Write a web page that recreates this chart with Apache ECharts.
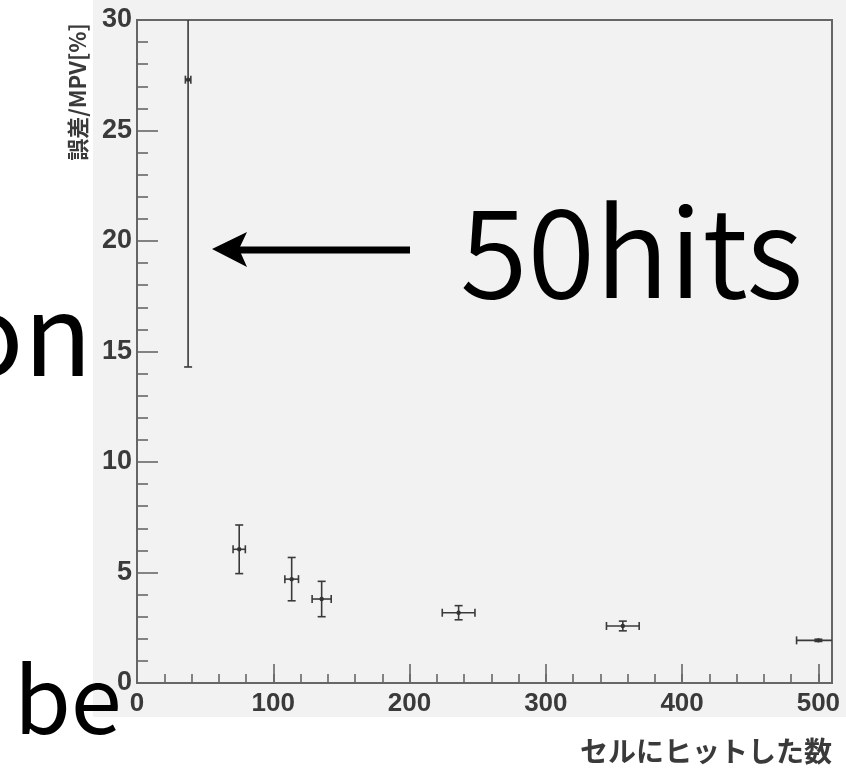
<!DOCTYPE html>
<html>
<head>
<meta charset="utf-8">
<script src="https://cdn.jsdelivr.net/npm/echarts@6/dist/echarts.min.js"></script>
<style>
html,body{margin:0;padding:0;background:#ffffff;}
#chart{width:846px;height:768px;}
</style>
</head>
<body>
<div id="chart"></div>
<script>
// ---- data ----
const xValues = [37.5, 75, 113.5, 135.5, 236, 356.5, 500];
const yValues = [27.3, 6.05, 4.7, 3.8, 3.18, 2.58, 1.93];
const xErrors = [2, 4.5, 5, 7, 12, 12, 16];
const yErrors = [13, 1.1, 0.98, 0.8, 0.32, 0.22, 0.05];
const xTickLabels = [0, 100, 200, 300, 400, 500];
const yTickLabels = [0, 5, 10, 15, 20, 25, 30];
const xTitle = 'セルにヒットした数';
const yTitle = '誤差/MPV[%]';
const annotation = '50hits';
const sideTextA = 'on';
const sideTextB = 'be';

const X_MIN = 0, X_MAX = 510, Y_MIN = 0, Y_MAX = 30;
const axisColor = '#666666';
const labelColor = '#3a3a3a';
const labelFont = 'Liberation Sans';

const points = xValues.map((x, i) => [x, yValues[i], xErrors[i], yErrors[i]]);

function renderErrorBar(params, api) {
  const x = api.value(0), y = api.value(1), ex = api.value(2), ey = api.value(3);
  const stroke = {stroke: '#3a3a3a', lineWidth: 1.6};
  const children = [];
  const c = api.coord([x, y]);
  const yTopV = Math.min(y + ey, Y_MAX), yBotV = Math.max(y - ey, Y_MIN);
  const xLeftV = Math.max(x - ex, X_MIN), xRightV = Math.min(x + ex, X_MAX);
  const top = api.coord([x, yTopV]), bot = api.coord([x, yBotV]);
  const left = api.coord([xLeftV, y]), right = api.coord([xRightV, y]);
  const cap = 4;
  children.push({type: 'line', shape: {x1: top[0], y1: top[1], x2: bot[0], y2: bot[1]}, style: stroke});
  if (y + ey <= Y_MAX) children.push({type: 'line', shape: {x1: top[0] - cap, y1: top[1], x2: top[0] + cap, y2: top[1]}, style: stroke});
  if (y - ey >= Y_MIN) children.push({type: 'line', shape: {x1: bot[0] - cap, y1: bot[1], x2: bot[0] + cap, y2: bot[1]}, style: stroke});
  children.push({type: 'line', shape: {x1: left[0], y1: left[1], x2: right[0], y2: right[1]}, style: stroke});
  if (x - ex >= X_MIN) children.push({type: 'line', shape: {x1: left[0], y1: left[1] - cap, x2: left[0], y2: left[1] + cap}, style: stroke});
  if (x + ex <= X_MAX) children.push({type: 'line', shape: {x1: right[0], y1: right[1] - cap, x2: right[0], y2: right[1] + cap}, style: stroke});
  children.push({type: 'circle', shape: {cx: c[0], cy: c[1], r: 2.2}, style: {fill: '#333333'}});
  return {type: 'group', children: children};
}

const chart = echarts.init(document.getElementById('chart'), null, {renderer: 'canvas'});
const tickLine = {color: axisColor, width: 1.6};

chart.setOption({
  animation: false,
  backgroundColor: '#ffffff',
  grid: {left: 137, top: 20, right: 14, bottom: 85, show: true, borderColor: axisColor, borderWidth: 2, backgroundColor: 'transparent'},
  xAxis: [{
    type: 'value', min: X_MIN, max: X_MAX, position: 'bottom',
    axisLine: {show: true, onZero: false, lineStyle: {color: axisColor, width: 2}},
    axisTick: {show: true, inside: true, length: 19, lineStyle: tickLine, customValues: xTickLabels},
    axisLabel: {customValues: xTickLabels, margin: 8, fontSize: 26, fontWeight: 'bold', color: labelColor, fontFamily: labelFont},
    splitLine: {show: false}
  }, {
    type: 'value', min: X_MIN, max: X_MAX, interval: 20, position: 'bottom',
    axisLine: {show: false},
    axisTick: {show: true, inside: true, length: 9, lineStyle: tickLine},
    axisLabel: {show: false},
    splitLine: {show: false}
  }],
  yAxis: {
    type: 'value', min: Y_MIN, max: Y_MAX, interval: 5,
    axisLine: {show: true, onZero: false, lineStyle: {color: axisColor, width: 2}},
    axisTick: {show: true, inside: true, length: 21, lineStyle: tickLine},
    minorTick: {show: true, splitNumber: 5, length: 11, lineStyle: tickLine},
    axisLabel: {customValues: yTickLabels, margin: 5, fontSize: 27, fontWeight: 'bold', color: labelColor, fontFamily: labelFont},
    splitLine: {show: false}
  },
  graphic: [
    {type: 'rect', z: -10, silent: true, shape: {x: 93, y: 0, width: 753, height: 717}, style: {fill: '#f2f2f2'}},
    {type: 'text', z: 10, x: 78, y: 92, rotation: Math.PI / 2,
      style: {text: yTitle, fontSize: 22, fontWeight: 'bold', fontFamily: 'Noto Sans CJK JP', fill: labelColor, textAlign: 'center', textVerticalAlign: 'middle'}},
    {type: 'text', z: 10, x: 832, y: 751,
      style: {text: xTitle, fontSize: 28, fontWeight: 'bold', fontFamily: 'Noto Sans CJK JP', fill: labelColor, textAlign: 'right', textVerticalAlign: 'middle'}},
    {type: 'text', z: 10, x: 460, y: 251,
      style: {text: annotation, fontSize: 123, fontWeight: 350, fontFamily: 'Noto Sans CJK JP', fill: '#000000', textAlign: 'left', textVerticalAlign: 'middle'}},
    {type: 'line', z: 10, shape: {x1: 410, y1: 250, x2: 238, y2: 250}, style: {stroke: '#000000', lineWidth: 7}},
    {type: 'polygon', z: 10, shape: {points: [[212, 249], [247, 232], [239, 249], [247, 267]]}, style: {fill: '#000000'}},
    {type: 'text', z: 10, x: 92, y: 333,
      style: {text: sideTextA, fontSize: 112, fontWeight: 'normal', fontFamily: 'Noto Sans CJK JP', fill: '#000000', textAlign: 'right', textVerticalAlign: 'middle'}},
    {type: 'text', z: 10, x: 14, y: 699,
      style: {text: sideTextB, fontSize: 92, fontWeight: 'normal', fontFamily: 'Noto Sans CJK JP', fill: '#000000', textAlign: 'left', textVerticalAlign: 'middle'}}
  ],
  series: [{
    type: 'custom', xAxisIndex: 0, yAxisIndex: 0, renderItem: renderErrorBar,
    data: points, z: 5
  }]
});
</script>
</body>
</html>
